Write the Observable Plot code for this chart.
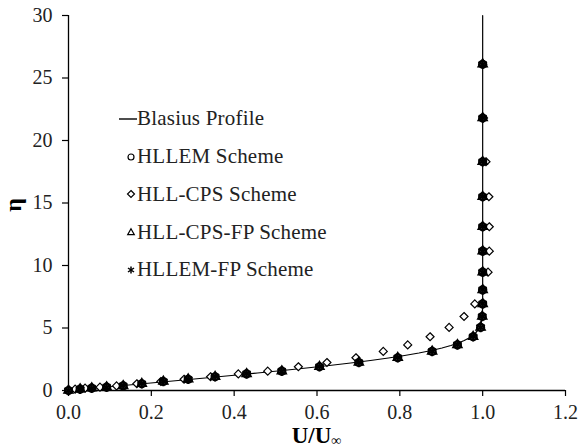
<!DOCTYPE html>
<html>
<head>
<meta charset="utf-8">
<script src="https://cdn.jsdelivr.net/npm/d3@7"></script>
<script src="https://cdn.jsdelivr.net/npm/@observablehq/plot@0.6"></script>
<style>
  html, body { margin: 0; padding: 0; background: white; }
  #wrap { position: relative; width: 580px; height: 447px; font-family: 'Liberation Serif', serif; color: #222; }
  #legend { position: absolute; left: 117px; top: 100px; font-size: 21px; letter-spacing: 0.2px; }
  .row { height: 37.75px; display: flex; align-items: center; white-space: nowrap; }
  .row svg { display: block; }
  #xlabel { position: absolute; left: 0; width: 580px; padding-left: 68px; padding-right: 15px; box-sizing: border-box; text-align: center; top: 427px; font-size: 23px; line-height: 18px; font-weight: bold; color: #000; }
  #xlabel sub { font-size: 14px; vertical-align: -2px; line-height: 0; }
  #ylabel { position: absolute; left: 1px; top: 190px; width: 24px; height: 30px; font-size: 24px; font-weight: bold; color: #000; transform: rotate(-90deg); text-align: center; line-height: 30px; }
</style>
</head>
<body>
<div id="wrap"></div>
<script>
// ---- data ----
const xTicks = [0, 0.2, 0.4, 0.6, 0.8, 1.0, 1.2];
const yTicks = [0, 5, 10, 15, 20, 25, 30];

// Blasius profile (eta, U/Uinf)
const blasiusEta = [0, 0.2, 0.4, 0.6, 0.8, 1.0, 1.2, 1.4, 1.6, 1.8, 2.0, 2.2, 2.4, 2.6, 2.8, 3.0, 3.2, 3.4, 3.6, 3.8, 4.0, 4.2, 4.4, 4.6, 4.8, 5.0, 5.2, 5.4, 5.6, 5.8, 6.0, 6.4, 6.8, 7.2, 8.0, 30];
const blasiusU = [0, 0.0664, 0.1328, 0.1989, 0.2647, 0.3298, 0.3938, 0.4563, 0.5168, 0.5748, 0.6298, 0.6813, 0.729, 0.7725, 0.8115, 0.8461, 0.8761, 0.9018, 0.9233, 0.9411, 0.9555, 0.967, 0.9759, 0.9827, 0.9878, 0.9916, 0.9943, 0.9962, 0.9975, 0.9984, 0.999, 0.9996, 0.9999, 1.0, 1.0, 1.0];

// grid points (eta) where the schemes are sampled
const eta = [0, 0.11, 0.19, 0.27, 0.37, 0.54, 0.72, 0.9, 1.1, 1.33, 1.55, 1.9, 2.24, 2.62, 3.13, 3.65, 4.3, 5.05, 5.92, 6.93, 8.05, 9.47, 11.15, 13.1, 15.5, 18.3, 21.8, 26.1];
const hllemU    = [0, 0.028, 0.056, 0.092, 0.132, 0.177, 0.229, 0.289, 0.354, 0.43, 0.515, 0.606, 0.701, 0.795, 0.878, 0.939, 0.977, 0.995, 0.999, 1.0, 1.0, 1.0, 1.0, 1.0, 1.0, 1.0, 1.0, 1.0];
const hllCpsU   = [0, 0.016, 0.04, 0.076, 0.116, 0.165, 0.223, 0.279, 0.343, 0.41, 0.481, 0.555, 0.624, 0.694, 0.76, 0.819, 0.873, 0.919, 0.955, 0.981, 1.0, 1.013, 1.016, 1.016, 1.015, 1.008, 1.002, 1.0];
const hllCpsFpU = [0, 0.028, 0.056, 0.092, 0.132, 0.177, 0.229, 0.289, 0.354, 0.43, 0.515, 0.606, 0.701, 0.795, 0.878, 0.939, 0.977, 0.995, 0.999, 1.0, 1.0, 1.0, 1.0, 1.0, 1.0, 1.0, 1.0, 1.0];
const hllemFpU  = [0, 0.028, 0.056, 0.092, 0.132, 0.177, 0.229, 0.289, 0.354, 0.43, 0.515, 0.606, 0.701, 0.795, 0.878, 0.939, 0.977, 0.995, 0.999, 1.0, 1.0, 1.0, 1.0, 1.0, 1.0, 1.0, 1.0, 1.0];

const seriesNames = ["Blasius Profile", "HLLEM Scheme", "HLL-CPS Scheme", "HLL-CPS-FP Scheme", "HLLEM-FP Scheme"];

// ---- tables ----
const blasius = blasiusEta.map((e, i) => ({eta: e, u: blasiusU[i]}));
const mk = (arr) => eta.map((e, i) => ({eta: e, u: arr[i]}));

const diamondSymbol = {
  draw(context, size) {
    const s = Math.sqrt(size / Math.PI);
    context.moveTo(0, -s);
    context.lineTo(s, 0);
    context.lineTo(0, s);
    context.lineTo(-s, 0);
    context.closePath();
  }
};

const font = "'Liberation Serif', serif";

const chart = Plot.plot({
  width: 580,
  height: 447,
  marginLeft: 68,
  marginRight: 15,
  marginTop: 15,
  marginBottom: 57,
  style: {fontFamily: font, fontSize: "20px", color: "#222", background: "white", overflow: "visible"},
  x: {domain: [0, 1.2]},
  y: {domain: [0, 30]},
  marks: [
    Plot.axisX({ticks: xTicks, tickFormat: d3.format(".1f"), tickSize: 6, tickPadding: 8, label: null, stroke: "#000", strokeWidth: 1.2}),
    Plot.axisY({ticks: yTicks, tickSize: 6, tickPadding: 10, label: null, stroke: "#000", strokeWidth: 1.2}),
    Plot.ruleX([0], {stroke: "#000", strokeWidth: 1.3}),
    Plot.ruleY([0], {stroke: "#000", strokeWidth: 1.3}),
    Plot.line(blasius, {x: "u", y: "eta", stroke: "#000", strokeWidth: 1.2}),
    Plot.dot(mk(hllCpsU), {x: "u", y: "eta", symbol: diamondSymbol, r: 4, stroke: "#000", fill: "white", strokeWidth: 1.2}),
    Plot.dot(mk(hllemU), {x: "u", y: "eta", symbol: "circle", r: 3.7, stroke: "#000", fill: "none", strokeWidth: 1.8}),
    Plot.dot(mk(hllCpsFpU), {x: "u", y: "eta", symbol: "triangle", r: 3.3, stroke: "#000", fill: "none", strokeWidth: 1.6}),
    Plot.dot(mk(hllemFpU), {x: "u", y: "eta", symbol: "asterisk", r: 4.6, stroke: "#000", strokeWidth: 2})
  ]
});

const wrap = document.getElementById("wrap");
wrap.appendChild(chart);

// legend (HTML overlay inside the plot area)
const icons = [
  '<svg width="20" height="20"><line x1="2" x2="20" y1="10" y2="10" stroke="#000" stroke-width="1.4"/></svg>',
  '<svg width="20" height="20"><circle cx="14" cy="10" r="3" fill="white" stroke="#000" stroke-width="1.2"/></svg>',
  '<svg width="20" height="20"><path d="M14,6.5L17.5,10L14,13.5L10.5,10Z" fill="white" stroke="#000" stroke-width="1.2"/></svg>',
  '<svg width="20" height="20"><path d="M14,6.8L17.3,12.6L10.7,12.6Z" fill="white" stroke="#000" stroke-width="1.2"/></svg>',
  '<svg width="20" height="20"><g stroke="#000" stroke-width="1.5"><line x1="14" y1="6.5" x2="14" y2="13.5"/><line x1="11" y1="8" x2="17" y2="12"/><line x1="11" y1="12" x2="17" y2="8"/></g></svg>'
];
const legend = document.createElement("div");
legend.id = "legend";
legend.innerHTML = seriesNames.map((n, i) => `<div class="row">${icons[i]}<span>${n}</span></div>`).join("");
wrap.appendChild(legend);

const xl = document.createElement("div");
xl.id = "xlabel";
xl.innerHTML = 'U/U<sub>∞</sub>';
wrap.appendChild(xl);

const yl = document.createElement("div");
yl.id = "ylabel";
yl.textContent = "η";
wrap.appendChild(yl);
</script>
</body>
</html>
